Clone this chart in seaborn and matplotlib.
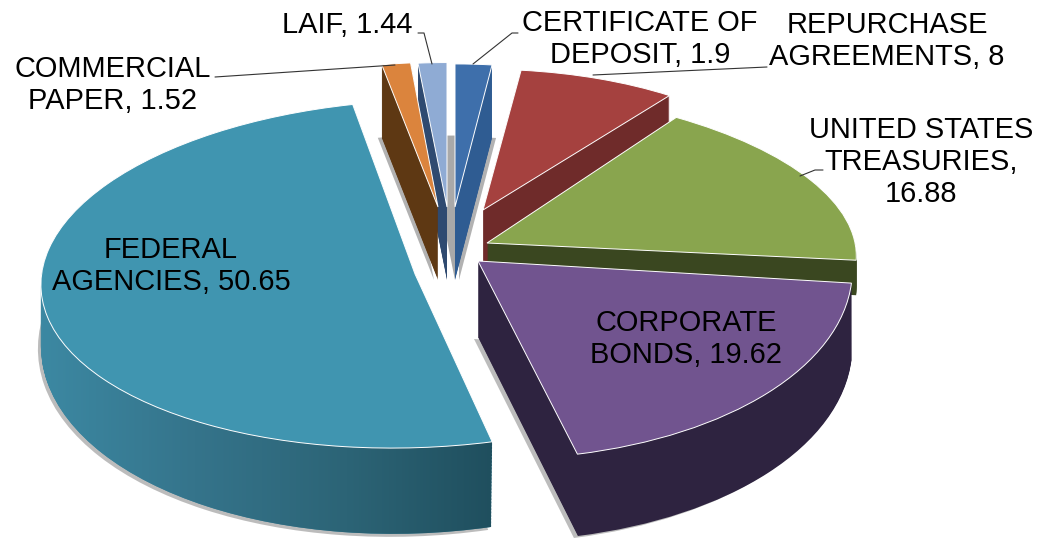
import seaborn as sns
import matplotlib.pyplot as plt
import numpy as np
from matplotlib.path import Path
from matplotlib.patches import PathPatch
from matplotlib.transforms import Affine2D

categories = ['CERTIFICATE OF\nDEPOSIT', 'REPURCHASE\nAGREEMENTS', 'UNITED STATES\nTREASURIES',
              'CORPORATE\nBONDS', 'FEDERAL\nAGENCIES', 'COMMERCIAL\nPAPER', 'LAIF']
values = [1.9, 8, 16.88, 19.62, 50.65, 1.52, 1.44]
value_sep = [', ', ', ', ',\n', ', ', ', ', ', ', ', ']

top_colors = ['#3E6FAB', '#A5413F', '#89A54E', '#71548F', '#4095B0', '#DB843D', '#8FABD4']
side_colors = ['#2F5C92', '#6F2B2A', '#3A4720', '#2E2340', '#3F88A0', '#5E3813', '#2F4A70']

# where each slice sits in the picture, in pixels
tip_x = [455, 483, 487, 478, 415, 438, 447]
tip_y = [207, 210, 243, 261, 274, 207, 207]
radius = [311, 320, 368, 374, 374, 304, 321]
squash = [0.46, 0.44, 0.42, 0.53, 0.465, 0.476, 0.45]
depth = [73, 73, 35, 76, 60, 73, 73]
# bottom of the wall opens up a bit towards the viewer
grow = [0, 0, 0, 0.016, 0.069, 0, 0]
shear = [0, 0, 0.2, 0.08, -0.04, 0, 0]
tilt = [0, 0, 0, 0, 0.02, 0, 0]
draw_order = [6, 0, 5, 1, 2, 4, 3]
# shadows: (x offset, y offset, colour, alpha)
shadows = {0: [(4, 0, '#808080', 0.6)], 5: [(-4, 0, '#808080', 0.6)], 6: [(8, 0, '#A9A9A9', 1)],
           4: [(-3, 3, '#909090', 0.6)], 3: [(-4, 2, '#909090', 0.6)]}

label_pos = [(640, 39), (887, 41), (921, 162), (686, 339), (171, 266), (113, 85), (347, 25)]
leaders = [[(518, 33), (512, 33), (473, 64)], [(767, 67), (593, 75)], [(823, 170), (815, 170), (800, 176)],
           [(215, 77), (395, 65)], [(418, 33), (424, 33), (432, 64)]]

sns.set_theme(style='white')
plt.rcParams['font.family'] = ['Liberation Sans', 'DejaVu Sans']

fig = plt.figure(figsize=(10.42, 5.38), dpi=100)
ax = fig.add_axes([0, 0, 1, 1])
total = sum(values)
starts = 90 - 360 * np.cumsum([0] + values[:-1]) / total


def draw_wedge(i, dx, dy, color, z, k=None, alpha=1, lw=0, ec='none'):
    k = squash[i] if k is None else k
    w, _ = ax.pie([values[i] / total], startangle=starts[i], counterclock=False, normalize=False,
                  radius=radius[i], colors=[color], wedgeprops=dict(linewidth=lw, edgecolor=ec, alpha=alpha))
    t = Affine2D.from_values(1, -tilt[i], -shear[i] * k, -k, tip_x[i] + dx, tip_y[i] + dy)
    w[0].set_transform(t + ax.transData)
    w[0].set_zorder(z)
    return w[0], t


wall_cmap = sns.blend_palette(['#3C88A2', '#35748B', '#2C6476', '#1F4E5D'], n_colors=256, as_cmap=True)

for n, i in enumerate(draw_order):
    z = 2 + n
    for dx, dy, c, a in shadows.get(i, []):
        draw_wedge(i, dx, depth[i] + dy, c, z - 0.5, k=squash[i] + grow[i], alpha=a)
    pieces = []
    for d in range(depth[i], 0, -1):
        w, t = draw_wedge(i, 0, d, side_colors[i], z, k=squash[i] + grow[i] * d / depth[i])
        pieces.append(w.get_path().transformed(w.get_patch_transform() + t))
    if categories[i].startswith('FEDERAL'):
        clip = PathPatch(Path.make_compound_path(*pieces), transform=ax.transData, fc='none', ec='none')
        ax.add_patch(clip)
        im = ax.imshow(np.linspace(0, 1, 256).reshape(1, -1), cmap=wall_cmap, extent=(42, 500, 538, 250),
                       aspect='auto', zorder=z + 0.1)
        im.set_clip_path(clip)
    draw_wedge(i, 0, 0, top_colors[i], z + 0.2, ec=(1, 1, 1, 0.4), lw=0.7)

for pts in leaders:
    ax.plot([p[0] for p in pts], [p[1] for p in pts], color='#333333', lw=0.8, zorder=20)

for name, v, sep, (x, y) in zip(categories, values, value_sep, label_pos):
    ax.text(x, y, f'{name}{sep}{v}', ha='center', va='center', fontsize=20.9, linespacing=1.2, color='black', zorder=30)

ax.set_aspect('auto')
ax.set_xlim(0, 1042)
ax.set_ylim(538, 0)
ax.axis('off')
fig.savefig('out.png', dpi=100)
